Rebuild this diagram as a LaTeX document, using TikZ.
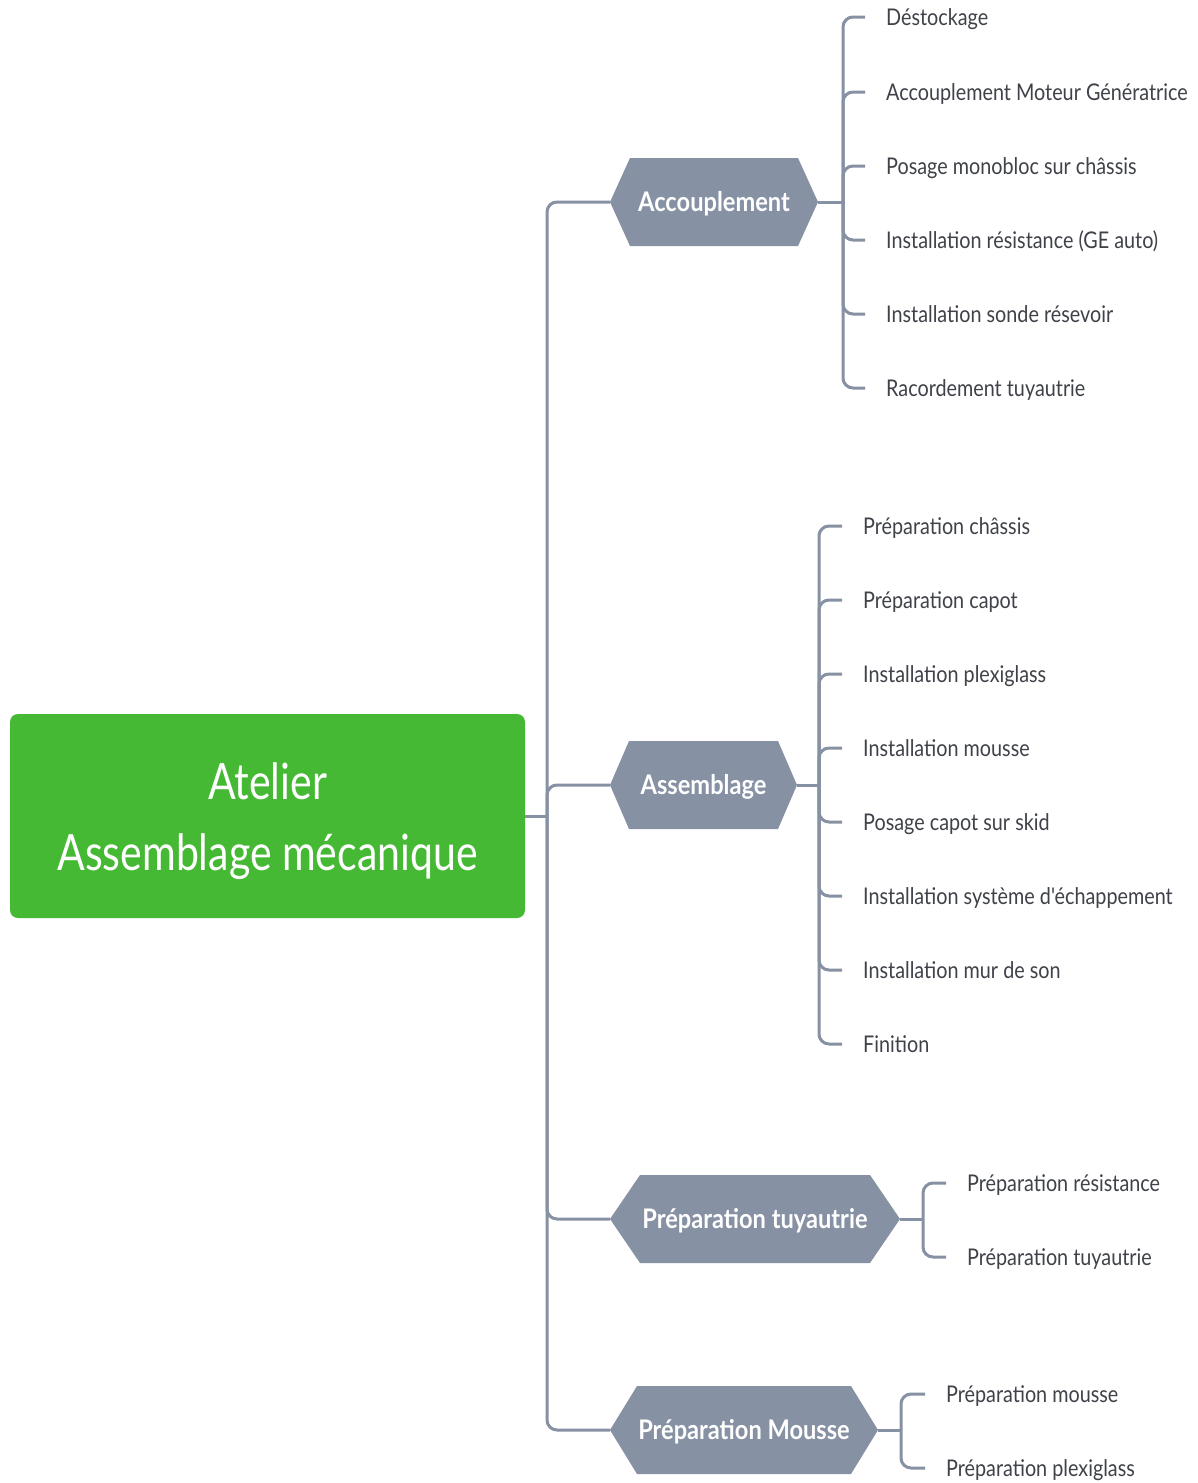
\documentclass[tikz,border=0pt]{standalone}
\usepackage{fontspec}
\setmainfont{Lato}[FakeStretch=0.82]
\newfontfamily\leaffont{Lato}[FakeStretch=0.86]
\newfontfamily\hexfont{Lato}[FakeStretch=0.875]
\definecolor{rootgreen}{HTML}{46B934}
\definecolor{linkgray}{HTML}{8791A4}
\definecolor{leaftext}{HTML}{3F4248}
\tikzset{
  link/.style={draw=linkgray, line width=3pt, rounded corners=10pt},
  hexfill/.style={fill=linkgray},
  hexlabel/.style={text=white, inner sep=0pt, text height=19pt, text depth=0pt,
    font=\hexfont\fontsize{27}{30}\selectfont\bfseries},
  leaf/.style={anchor=west, inner sep=0pt, text=leaftext, text height=16.6pt, text depth=0pt,
    font=\leaffont\fontsize{23}{26}\selectfont},
  rootbox/.style={fill=rootgreen, rounded corners=8pt, minimum width=515pt, minimum height=204pt,
    inner sep=0pt},
  roottext/.style={align=center, text=white, font=\fontsize{50}{71}\selectfont, inner sep=0pt}
}
% hexagonal topic: name, centre x, centre y, half width, tip length, label
\newcommand\hextopic[6]{%
  \fill[hexfill] (#2-#4,#3) -- (#2-#4+#5,#3-44) -- (#2+#4-#5,#3-44) -- (#2+#4,#3)
    -- (#2+#4-#5,#3+44) -- (#2-#4+#5,#3+44) -- cycle;
  \node[hexlabel] (#1) at (#2,#3) {#6};
  \coordinate (#1-l) at (#2-#4,#3);
  \coordinate (#1-r) at (#2+#4,#3);
}
\begin{document}
\begin{tikzpicture}[x=1pt,y=-1pt]
\fill[white] (0,0) rectangle (1197,1483);
\useasboundingbox (0,0) rectangle (1197,1483);

% central topic
\node[rootbox] (root) at (267.5,816) {};
\node[roottext] (rootlabel) at (267.5,821) {Atelier\\Assemblage mécanique};
\coordinate (trunk) at (547,816);
\draw[link, rounded corners=0pt] (root.east) -- (trunk);

% main branches
\hextopic{acc}{714}{202}{104}{20}{Accouplement}
\hextopic{ass}{703.5}{785}{93.5}{19}{Assemblage}
\hextopic{tuy}{755}{1219}{145}{30}{Préparation tuyautrie}
\hextopic{mou}{744}{1430}{134}{27}{Préparation Mousse}

\foreach \b in {acc,ass,tuy,mou}{
  \draw[link] (trunk) |- (\b-l);
}

% Accouplement
\coordinate (accj) at (843,202);
\draw[link] (acc-r) -- (accj);
\node[leaf] (a1) at (886,17) {Déstockage};
\node[leaf] (a2) at (886,92) {Accouplement Moteur Génératrice};
\node[leaf] (a3) at (886,166) {Posage monobloc sur châssis};
\node[leaf] (a4) at (886,240) {Installation résistance (GE auto)};
\node[leaf] (a5) at (886,314) {Installation sonde résevoir};
\node[leaf] (a6) at (886,388) {Racordement tuyautrie};
\foreach \n in {a1,a2,a3,a4,a5,a6}{
  \draw[link] (accj) |- ([xshift=-21pt]\n.west);
}

% Assemblage
\coordinate (assj) at (819,785);
\draw[link] (ass-r) -- (assj);
\node[leaf] (b1) at (863,526) {Préparation châssis};
\node[leaf] (b2) at (863,600) {Préparation capot};
\node[leaf] (b3) at (863,674) {Installation plexiglass};
\node[leaf] (b4) at (863,748) {Installation mousse};
\node[leaf] (b5) at (863,822) {Posage capot sur skid};
\node[leaf] (b6) at (863,896) {Installation système d\symbol{39}échappement};
\node[leaf] (b7) at (863,970) {Installation mur de son};
\node[leaf] (b8) at (863,1044) {Finition};
\foreach \n in {b1,b2,b3,b4,b5,b6,b7,b8}{
  \draw[link] (assj) |- ([xshift=-21pt]\n.west);
}

% Préparation tuyautrie
\coordinate (tuyj) at (923,1219);
\draw[link] (tuy-r) -- (tuyj);
\node[leaf] (c1) at (967,1183) {Préparation résistance};
\node[leaf] (c2) at (967,1257) {Préparation tuyautrie};
\foreach \n in {c1,c2}{
  \draw[link] (tuyj) |- ([xshift=-21pt]\n.west);
}

% Préparation Mousse
\coordinate (mouj) at (901,1430);
\draw[link] (mou-r) -- (mouj);
\node[leaf] (d1) at (946,1394) {Préparation mousse};
\node[leaf] (d2) at (946,1468) {Préparation plexiglass};
\foreach \n in {d1,d2}{
  \draw[link] (mouj) |- ([xshift=-21pt]\n.west);
}
\end{tikzpicture}
\end{document}
